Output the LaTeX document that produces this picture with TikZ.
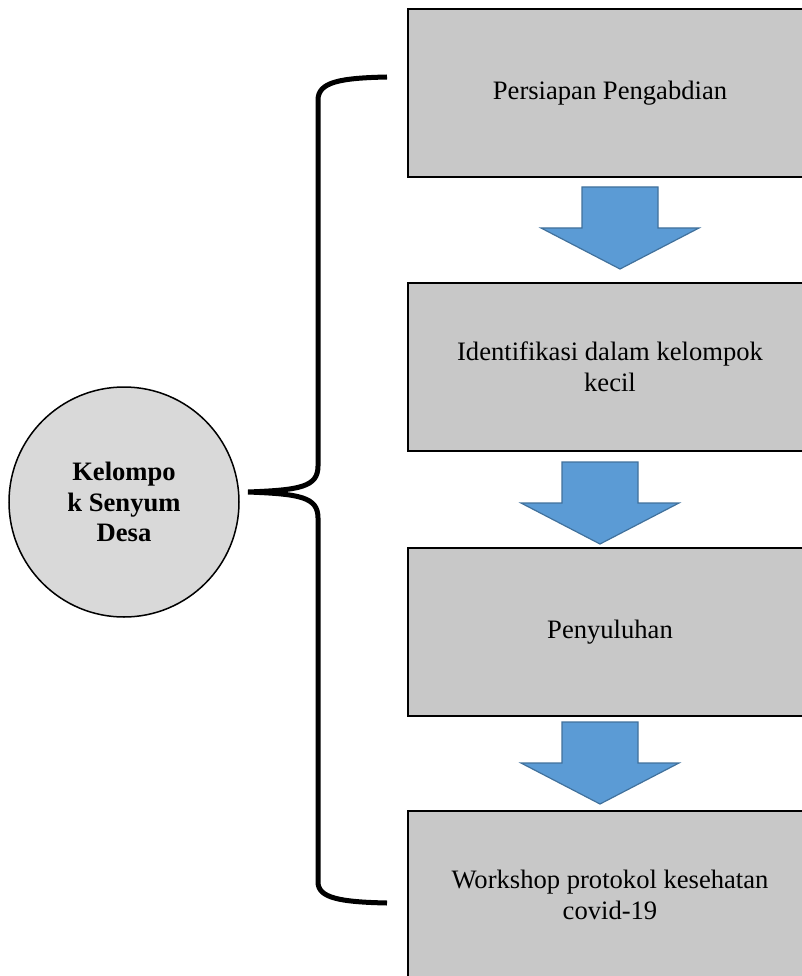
\documentclass[tikz,border=0pt]{standalone}
\usepackage{fontspec}
\setmainfont{LiberationSerif}[Extension=.ttf, UprightFont=*-Regular,
    BoldFont=*-Bold, ItalicFont=*-Italic, BoldItalicFont=*-BoldItalic]
\definecolor{boxgray}{HTML}{C8C8C8}
\definecolor{circgray}{HTML}{D9D9D9}
\definecolor{arrowfill}{HTML}{5B9BD5}
\definecolor{arrowline}{HTML}{41719C}
\begin{document}
\begin{tikzpicture}[x=1pt, y=-1pt,
    stepbox/.style={shape=rectangle, draw, line width=2pt, fill=boxgray,
        minimum width=404pt, minimum height=168pt, align=center,
        font=\fontsize{26.6}{30.6}\selectfont},
    group/.style={shape=circle, draw, line width=1.5pt, fill=circgray,
        minimum size=230pt, align=center,
        font=\fontsize{26.6}{30.6}\selectfont\bfseries}]
    \useasboundingbox (0, 0) rectangle (801, 976);

    \node (g) at (124, 502) [group] {Kelompo\\k Senyum\\Desa};

    \node (s1) at (610, 93) [stepbox] {Persiapan Pengabdian};
    \node (s2) at (610, 366.5) [stepbox] {Identifikasi dalam kelompok\\kecil};
    \node (s3) at (610, 632) [stepbox] {Penyuluhan};
    \node (s4) at (610, 895) [stepbox] {Workshop protokol kesehatan\\covid-19};

    \foreach \x/\y in {620/187, 600/462, 600/722}
        \draw[fill=arrowfill, draw=arrowline, line width=1.2pt]
            (\x-38, \y) -- (\x+38, \y) -- (\x+38, \y+41) -- (\x+79, \y+41)
            -- (\x, \y+82) -- (\x-79, \y+41) -- (\x-38, \y+41) -- cycle;

    \coordinate (btop) at (387, 77);
    \coordinate (btip) at (248, 492);
    \coordinate (bbot) at (387, 903);
    \draw[line width=5pt]
        (btop) .. controls (340, 78) and (318, 82) .. (318, 100) -- (318, 466)
        .. controls (318, 487) and (300, 490) .. (btip)
        .. controls (300, 494) and (318, 497) .. (318, 518) -- (318, 882)
        .. controls (318, 898) and (340, 902) .. (bbot);
\end{tikzpicture}
\end{document}
